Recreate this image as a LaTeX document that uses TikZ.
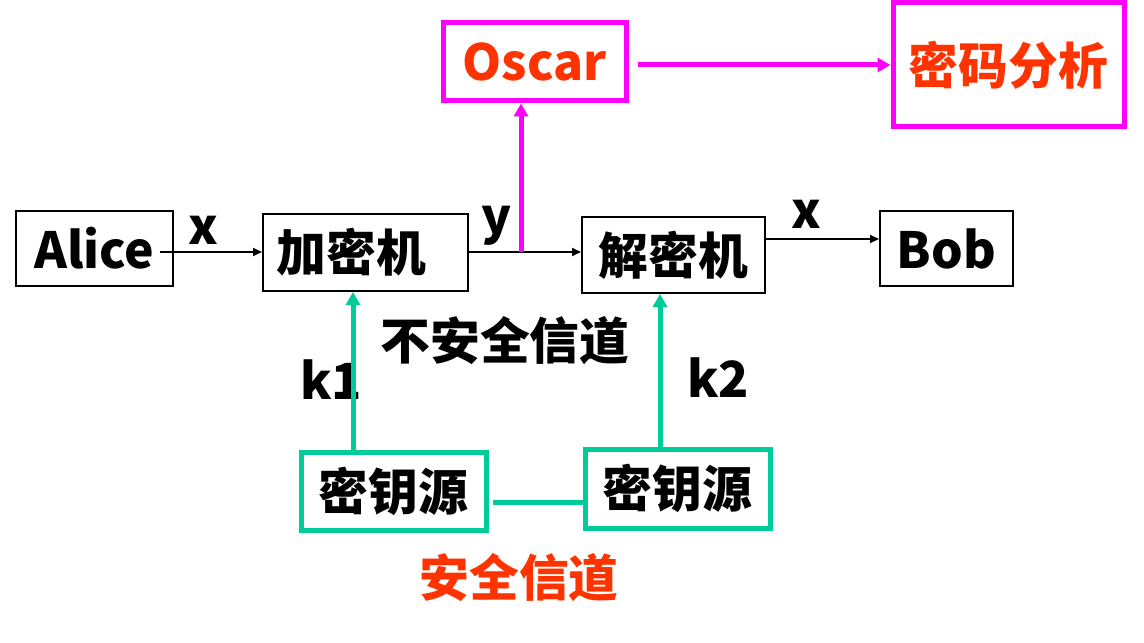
\documentclass[tikz,border=0pt]{standalone}
\usepackage{fontspec}
\setmainfont{Noto Sans CJK SC}
\usetikzlibrary{arrows.meta}
\definecolor{mag}{RGB}{255,0,255}
\definecolor{grn}{RGB}{0,204,153}
\definecolor{ored}{RGB}{255,51,0}
\begin{document}
\begin{tikzpicture}[x=1bp,y=-1bp,
  every node/.style={font=\fontsize{50}{58}\selectfont\bfseries},
  bbox/.style={draw=black,line width=2bp,inner sep=0pt},
  mbox/.style={draw=mag,line width=5bp,inner sep=0pt,text=ored},
  gbox/.style={draw=grn,line width=5bp,inner sep=0pt},
  lbl/.style={inner sep=0pt},
  blk/.style={line width=2bp,-{Triangle[length=9bp,width=8bp]}},
  marr/.style={draw=mag,line width=5bp,-{Triangle[length=13bp,width=14bp]}},
  garr/.style={draw=grn,line width=5bp,-{Triangle[length=13bp,width=14bp]}}]
\useasboundingbox (0,0) rectangle (1144,643);
\node[bbox,minimum width=157bp,minimum height=75bp] (alice) at (94.5,248.5) {Alice};
\node[bbox,minimum width=205bp,minimum height=77bp] (enc) at (365.5,252.5) {加密机\kern28bp};
\node[bbox,minimum width=183bp,minimum height=76bp] (dec) at (673.5,255) {解密机};
\node[bbox,minimum width=133bp,minimum height=75bp] (bob) at (946.5,248.5) {Bob};
\node[mbox,minimum width=183bp,minimum height=78bp] (oscar) at (534.5,62) {Oscar};
\node[mbox,minimum width=231bp,minimum height=124bp] (anal) at (1008.5,65) {密码分析};
\node[gbox,minimum width=185bp,minimum height=78bp] (ks1) at (393.5,491) {密钥源};
\node[gbox,minimum width=185bp,minimum height=79bp] (ks2) at (677.5,488.5) {密钥源};
\node[lbl] (lx1) at (203,230) {x};
\node[lbl] (ly) at (497,226) {y};
\node[lbl] (lx2) at (806,214) {x};
\node[lbl] (lk1) at (331,380) {k1};
\node[lbl] (lk2) at (718,378) {k2};
\node[lbl] (lunsafe) at (505,341) {不安全信道};
\node[lbl,text=ored] (lsafe) at (519,578) {安全信道};
\coordinate (a1) at (160,252);
\coordinate (j) at (521,252);
\coordinate (d1) at (765,239);
\coordinate (o1) at (638,65);
\coordinate (g1) at (353,452);
\coordinate (g2) at (660,449);
\coordinate (h1) at (493,502);
\draw[blk] (a1) -- (a1 -| enc.west);
\draw[blk] (enc.east |- j) -- (j -| dec.west);
\draw[blk] (d1) -- (d1 -| bob.west);
\draw[marr] (j) -- (j |- oscar.south);
\draw[marr] (o1) -- (o1 -| anal.west);
\draw[garr] (g1) -- (g1 |- enc.south);
\draw[garr] (g2) -- (g2 |- dec.south);
\draw[grn,line width=5bp] (h1) -- (h1 -| ks2.west);
\end{tikzpicture}
\end{document}
